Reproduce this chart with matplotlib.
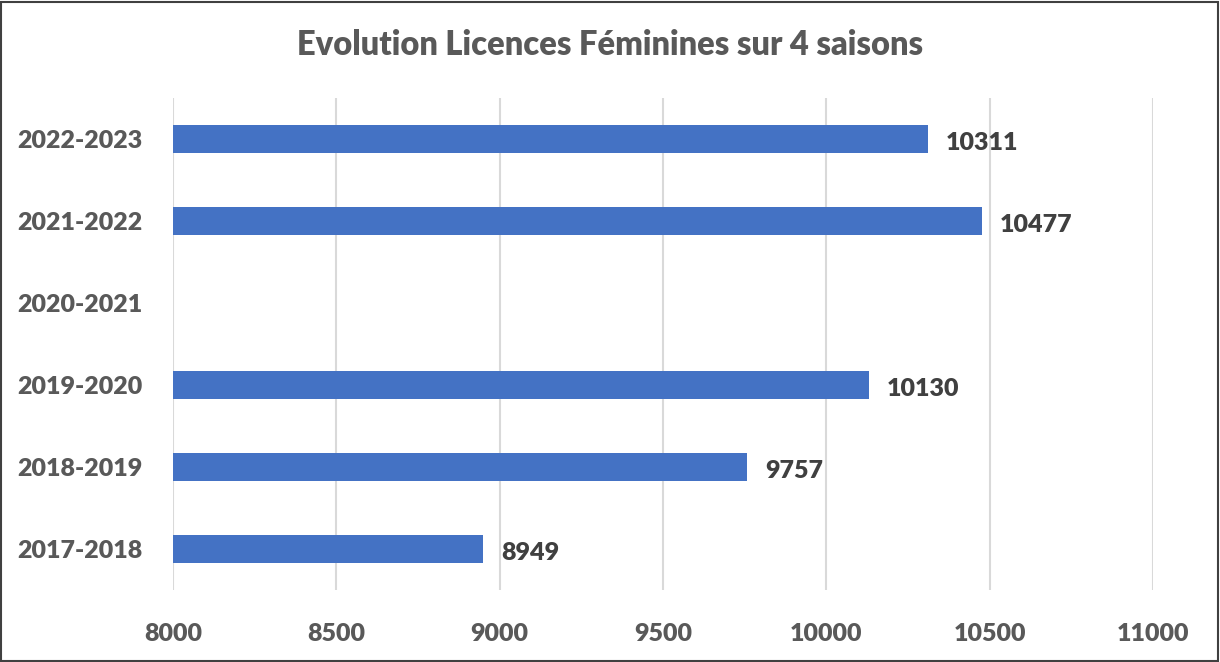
import numpy as np
import matplotlib
matplotlib.use("Agg")
import matplotlib.pyplot as plt

# données
saisons = ["2017-2018", "2018-2019", "2019-2020", "2020-2021", "2021-2022", "2022-2023"]
licences = [8949, 9757, 10130, np.nan, 10477, 10311]
x_ticks = [8000, 8500, 9000, 9500, 10000, 10500, 11000]

plt.rcParams['font.family'] = ['Lato', 'DejaVu Sans']
W = "heavy"

fig = plt.figure(figsize=(12.2, 6.62), dpi=100)
ax = fig.add_axes([173 / 1220, 1 - 590 / 662, 980 / 1220, 492 / 662])

y = np.arange(len(saisons))
ax.barh(y, licences, height=0.34, left=0, color="#4472C4", zorder=3)
ax.set_xlim(8000, 11000)
ax.set_ylim(-0.5, len(saisons) - 0.5)

for yi, v in zip(y, licences):
    if not np.isnan(v):
        ax.annotate(f"{int(v)}", (v, yi), xytext=(13, -3), textcoords="offset points",
                    va="center", ha="left", fontsize=18, fontweight=W, color="#404040")

ax.set_yticks(y)
ax.set_yticklabels(saisons, fontsize=18, fontweight=W, color="#595959")
ax.set_xticks(x_ticks)
ax.set_xticklabels([str(t) for t in x_ticks], fontsize=18, fontweight=W, color="#595959")
ax.tick_params(axis="both", length=0)
ax.tick_params(axis="y", pad=22)
ax.tick_params(axis="x", pad=24)
ax.grid(axis="x", color="#D9D9D9", linewidth=1.5, zorder=0)
for s in ax.spines.values():
    s.set_visible(False)

fig.text(0.5, 1 - 45 / 662, "Evolution Licences Féminines sur 4 saisons", ha="center", va="center",
         fontsize=23.5, fontweight=W, color="#595959")

# cadre
fig.patches.append(plt.Rectangle((0.001, 0.002), 0.997, 0.995, transform=fig.transFigure,
                                 fill=False, edgecolor="#404040", linewidth=1.5))

plt.savefig("out.png", dpi=100)
plt.close()
